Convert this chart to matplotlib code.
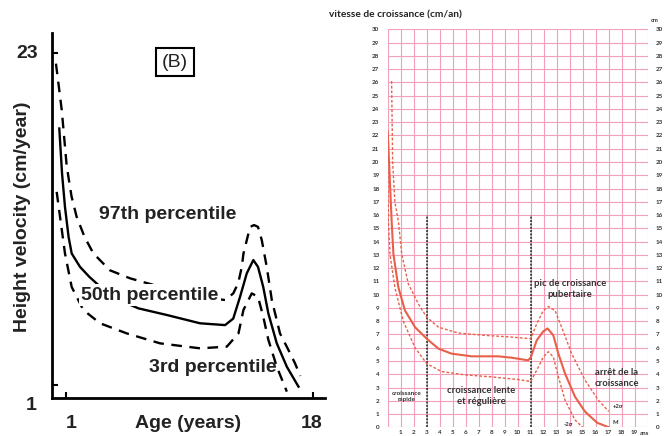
import numpy as np
import matplotlib
matplotlib.use("Agg")
import matplotlib.pyplot as plt

# ---- left panel (B): height velocity percentiles
p50_age = [0.56, 0.75, 0.95, 1.2, 1.41, 1.98, 2.62, 3.5, 4.5, 5.99, 7.94, 10.22, 11.94, 12.5,
           12.97, 13.43, 13.88, 14.2, 14.56, 14.91, 15.49, 16.18, 16.98]
p50_vel = [18.0, 15.0, 12.8, 10.8, 9.72, 8.83, 8.17, 7.4, 6.7, 6.08, 5.64, 5.09, 4.97, 5.4,
           6.85, 8.4, 9.28, 8.83, 7.5, 5.75, 3.76, 2.21, 0.89]

p97_age = [0.33, 0.5, 0.73, 1.07, 1.4, 1.75, 2.3, 2.9, 4.04, 5.42, 7.5, 9.5, 10.9, 11.95, 12.5,
           12.84, 13.09, 13.2, 13.43, 13.66, 13.93, 14.2, 14.46, 14.8, 15.15, 15.71, 16.29, 16.74, 17.1]
p97_vel = [22.3, 21.0, 19.2, 15.5, 13.5, 12.15, 10.8, 9.72, 8.6, 8.07, 7.5, 7.0, 6.76, 6.63, 7.07,
           7.75, 8.83, 9.7, 10.6, 11.48, 11.6, 11.48, 10.6, 8.83, 6.63, 4.42, 3.32, 2.44, 1.6]

p3_age = [0.38, 0.61, 0.95, 1.41, 2.21, 3.36, 5.19, 7.48, 10.22, 12.06, 12.86, 13.2, 13.77,
          14.2, 14.56, 14.91, 15.49, 16.18]
p3_vel = [13.8, 12.15, 9.72, 7.5, 5.97, 5.09, 4.42, 3.76, 3.43, 3.54, 4.42, 5.97, 7.07,
          6.85, 5.53, 4.0, 2.21, 0.56]

# ---- right panel: vitesse de croissance (cm/an)
med_age = [0.0, 0.3, 0.44, 0.82, 1.33, 2.1, 3.0, 3.9, 4.92, 6.46, 8.5, 9.5, 10.8, 11.0, 11.46,
           11.97, 12.3, 12.74, 13.13, 13.64, 14.41, 15.18, 16.1, 17.0]
med_vel = [22.3, 15.6, 13.05, 10.55, 8.8, 7.55, 6.68, 5.93, 5.55, 5.35, 5.35, 5.25, 5.05, 5.25,
           6.55, 7.23, 7.45, 6.93, 5.55, 4.05, 2.3, 1.18, 0.35, 0.0]

up_age = [0.3, 0.38, 0.55, 0.82, 1.08, 1.59, 2.36, 3.0, 3.9, 5.44, 7.49, 9.54, 11.0, 11.46,
          11.97, 12.36, 12.87, 13.38, 14.15, 15.18, 16.2, 17.0]
up_vel = [26.1, 20.0, 17.0, 15.55, 13.05, 10.8, 9.3, 8.3, 7.55, 7.1, 6.93, 6.8, 6.68, 7.8,
          8.8, 9.1, 8.8, 7.55, 5.55, 3.55, 2.05, 1.2]

low_age = [0.02, 0.05, 0.18, 0.56, 1.2, 2.1, 3.0, 4.15, 5.95, 8.0, 10.05, 11.0, 11.46, 11.97,
           12.36, 12.74, 13.13, 13.64, 14.41, 15.0]
low_vel = [19.3, 15.5, 13.0, 10.5, 8.0, 6.0, 4.8, 4.2, 3.95, 3.8, 3.6, 3.45, 4.3, 5.3,
           5.7, 5.3, 3.8, 2.05, 0.55, 0.0]

phase_limits = [3, 11]
fr_ticks = list(range(1, 20))
fr_yticks = list(range(0, 31))

fig = plt.figure(figsize=(6.64, 4.36), dpi=100)
W, H = 664, 436

def fx(px):
    return px / W

def fy(py):
    return 1 - py / H

# ================= left panel =================
axl = fig.add_axes([fx(52), fy(398), fx(325) - fx(52), fy(33) - fy(398)])
axl.set_xlim(0.059, 18.8)
axl.set_ylim(0.138, 24.33)
for s in ["top", "right"]:
    axl.spines[s].set_visible(False)
for s in ["left", "bottom"]:
    axl.spines[s].set_linewidth(2.0)
axl.set_xticks([1, 18])
axl.set_yticks([1, 23])
axl.set_xticklabels([])
axl.set_yticklabels([])
axl.tick_params(direction="in", length=4, width=1.5)

dash = (0, (4.5, 3.2))
axl.plot(p50_age, p50_vel, color="black", lw=1.7, zorder=2)
axl.plot(p97_age, p97_vel, color="black", lw=1.7, linestyle=dash, zorder=2)
axl.plot(p3_age, p3_vel, color="black", lw=1.7, linestyle=dash, zorder=2)

lab_font = dict(family="Liberation Sans", fontweight="bold", fontsize=14, color="#222222")
axl.text(8.02, 12.27, "97th percentile", ha="center", va="center", zorder=3, **lab_font)
axl.text(6.79, 6.96, "50th percentile", ha="center", va="center", zorder=3,
         bbox=dict(facecolor="white", edgecolor="none", pad=1.5), **lab_font)
axl.text(11.11, 2.13, "3rd percentile", ha="center", va="center", zorder=1, **lab_font)
axl.text(8.5, 22.4, "(B)", ha="center", va="center", family="Liberation Sans",
         fontsize=14, color="#222222",
         bbox=dict(facecolor="white", edgecolor="black", linewidth=1.5, boxstyle="square,pad=0.3"))

fig.text(fx(27), fy(53), "23", ha="center", va="center", **lab_font)
fig.text(fx(31), fy(405), "1", ha="center", va="center", **lab_font)
fig.text(fx(71), fy(423), "1", ha="center", va="center", **lab_font)
fig.text(fx(312), fy(423), "18", ha="center", va="center", **lab_font)
fig.text(fx(188), fy(423), "Age (years)", ha="center", va="center", **lab_font)
fig.text(fx(23), fy(217), "Height velocity (cm/year)", ha="center", va="center",
         rotation=90, **lab_font)

# ================= right panel =================
axr = fig.add_axes([fx(387.7), fy(427.3), fx(647.7) - fx(387.7), fy(29.3) - fy(427.3)])
axr.set_xlim(0, 20)
axr.set_ylim(0, 30)
grid_col = "#f2a0ba"
for v in range(0, 21):
    axr.axvline(v, color=grid_col, lw=0.8, zorder=0)
for v in range(0, 31):
    axr.axhline(v, color=grid_col, lw=0.8, zorder=0)
for s in axr.spines.values():
    s.set_visible(False)

fr_font = ["Lato", "DejaVu Sans"]
axr.set_xticks(fr_ticks)
axr.set_xticklabels([str(t) for t in fr_ticks], fontsize=4.5, family=fr_font,
                    fontweight="bold", color="#333333")
axr.set_yticks(fr_yticks)
axr.set_yticklabels([str(t) for t in fr_yticks], fontsize=4.5, family=fr_font,
                    fontweight="bold", color="#333333")
axr.tick_params(axis="y", length=0, pad=6, labelleft=True, labelright=True)
axr.tick_params(axis="x", length=0, pad=2.0)
axr.text(19.4, -0.45, "ans", fontsize=4.5, family=fr_font, fontweight="bold",
         color="#333333", ha="left", va="center", clip_on=False)

red = "#e8604a"
axr.plot(med_age, med_vel, color=red, lw=1.5, zorder=3)
axr.plot(up_age, up_vel, color=red, lw=1.0, linestyle=(0, (2, 1.4)), zorder=3)
axr.plot(low_age, low_vel, color=red, lw=1.0, linestyle=(0, (2, 1.4)), zorder=3)
for xv in phase_limits:
    axr.plot([xv, xv], [0, 16], color="#222222", lw=1.1, linestyle=(0, (1.3, 0.9)), zorder=2)

txt = dict(family=fr_font, fontweight="bold", color="#333333", ha="center", va="center",
           linespacing=1.3, zorder=4)
axr.text(1.45, 2.35, "croissance\nrapide", fontsize=4.6, **txt)
axr.text(7.2, 2.35, "croissance lente\net régulière", fontsize=6.8, **txt)
axr.text(14.0, 10.45, "pic de croissance\npubertaire", fontsize=6.8, **txt)
axr.text(17.6, 3.75, "arrêt de la\ncroissance", fontsize=6.8, **txt)
axr.text(17.7, 1.6, "+2σ", fontsize=4.2, **txt)
axr.text(17.5, 0.35, "M", fontsize=4.2, **txt)
axr.text(13.9, 0.2, "-2σ", fontsize=4.2, **txt)

fig.text(fx(329), fy(15), "vitesse de croissance (cm/an)", ha="left", va="center",
         family=fr_font, fontweight="bold", fontsize=7.3, color="#222222")
fig.text(fx(655), fy(20), "cm", ha="center", va="center", family=fr_font,
         fontweight="bold", fontsize=4.2, color="#333333")

fig.savefig("out.png", dpi=100)
